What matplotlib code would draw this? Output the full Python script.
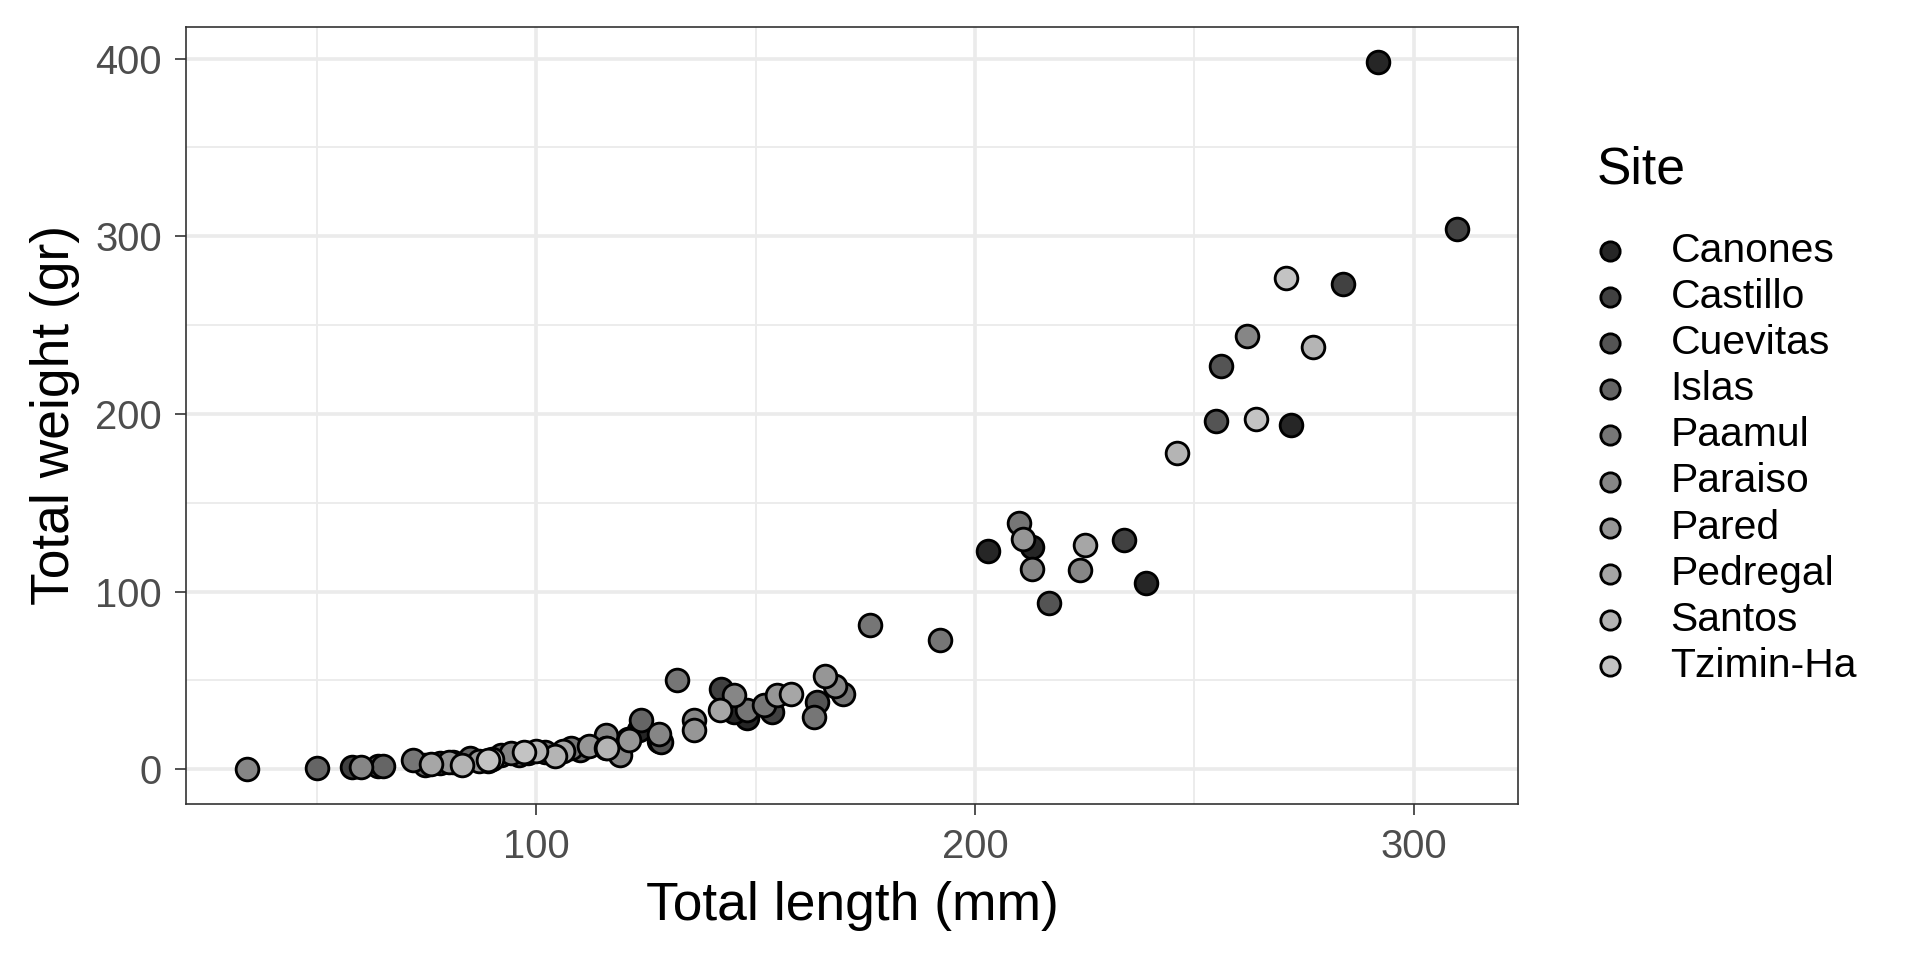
import numpy as np
import matplotlib
matplotlib.use("Agg")
import matplotlib.pyplot as plt

plt.rcParams['font.family'] = ['Liberation Sans', 'DejaVu Sans']

# Data (length in mm, weight in gr) per site
sites = ['Canones', 'Castillo', 'Cuevitas', 'Islas', 'Paamul',
         'Paraiso', 'Pared', 'Pedregal', 'Santos', 'Tzimin-Ha']

canones_len = [292, 272, 213, 203, 239, 123.5, 148, 145, 128]
canones_wt = [398, 194, 125, 123, 105, 22, 28.6, 32.4, 16]
castillo_len = [310, 284, 234, 142, 153.8, 58]
castillo_wt = [304, 273, 129, 45.4, 32.4, 1.5]
cuevitas_len = [256, 255, 217, 164, 128.4, 64, 78]
cuevitas_wt = [227, 196, 93.5, 38, 15.5, 2, 3.5]
islas_len = [50, 65, 92, 121, 74.6, 85, 96, 123.9, 110]
islas_wt = [0.5, 2, 8, 17, 2.4, 6.2, 8, 27.7, 11]
paamul_len = [210, 192, 176, 163.3, 132, 72, 170, 148, 152, 101.9, 108, 89]
paamul_wt = [138.5, 73, 81.3, 29.6, 50, 5.2, 42.1, 33.3, 36.1, 9.6, 11.8, 4.5]
paraiso_len = [262, 213, 224, 168.2, 60, 128, 116, 145, 136, 119.2, 94.3, 81, 34]
paraiso_wt = [243.6, 112.6, 112.3, 47, 1, 20, 19.3, 41.7, 27.7, 8, 9, 4, 0.3]
pared_len = [211, 165.9, 154.9, 136, 98, 87, 80, 121.2, 112]
pared_wt = [129.6, 52.5, 41.7, 22, 9, 4.5, 4, 16.4, 13]
pedregal_len = [225, 158, 141.8, 106, 90, 76, 116]
pedregal_wt = [126.4, 42.1, 33.3, 10, 6, 3, 12]
santos_len = [277, 246, 104.2, 83, 100, 116.1]
santos_wt = [237.6, 178, 7.5, 2.5, 10, 11.8]
tzimin_len = [271, 264, 88.9, 97.3]
tzimin_wt = [276.3, 197.4, 5, 9.9]

site_len = [canones_len, castillo_len, cuevitas_len, islas_len, paamul_len,
            paraiso_len, pared_len, pedregal_len, santos_len, tzimin_len]
site_wt = [canones_wt, castillo_wt, cuevitas_wt, islas_wt, paamul_wt,
           paraiso_wt, pared_wt, pedregal_wt, santos_wt, tzimin_wt]

# grey fill scale, dark to light
greys = ['#262626', '#414141', '#545454', '#656565', '#767676',
         '#868686', '#969696', '#a6a6a6', '#b4b4b4', '#c3c3c3']

fig = plt.figure(figsize=(16, 8), dpi=120)
ax = fig.add_axes([0.097, 0.1625, 0.6936, 0.8095])

for name, xs, ys, col in zip(sites, site_len, site_wt, greys):
    ax.scatter(xs, ys, s=185, c=col, edgecolors='black', linewidths=1.7,
               label=name, zorder=3)

# ggplot-like 5% expansion
all_x = np.concatenate([np.array(v, float) for v in site_len])
all_y = np.concatenate([np.array(v, float) for v in site_wt])
rx = all_x.max() - all_x.min()
ry = all_y.max() - all_y.min()
ax.set_xlim(all_x.min() - 0.05 * rx, all_x.max() + 0.05 * rx)
ax.set_ylim(all_y.min() - 0.05 * ry, all_y.max() + 0.05 * ry)

ax.set_xticks([100, 200, 300])
ax.set_xticks([50, 150, 250], minor=True)
ax.set_yticks([0, 100, 200, 300, 400])
ax.set_yticks([50, 150, 250, 350], minor=True)

ax.grid(which='major', color='#EBEBEB', linewidth=2.2, zorder=0)
ax.grid(which='minor', color='#EBEBEB', linewidth=1.1, zorder=0)
ax.set_axisbelow(True)

for sp in ax.spines.values():
    sp.set_color('#333333')
    sp.set_linewidth(1.0)

ax.tick_params(which='major', length=6.5, width=1.0, color='#333333',
               labelcolor='#4D4D4D', labelsize=24, pad=8)
ax.tick_params(which='minor', length=0)

ax.set_xlabel('Total length (mm)', fontsize=32, color='black', labelpad=9)
ax.set_ylabel('Total weight (gr)', fontsize=32, color='black', labelpad=9)

leg = ax.legend(title='Site', loc='center left', bbox_to_anchor=(1.047, 0.5),
                frameon=False, fontsize=24.5, title_fontsize=31,
                labelspacing=0.2, handlelength=0.66, handletextpad=1.14,
                markerscale=0.85, borderaxespad=0)
leg._legend_box.align = 'left'
leg._legend_box.sep = 22

fig.savefig('out.png', dpi=120, facecolor='white')
